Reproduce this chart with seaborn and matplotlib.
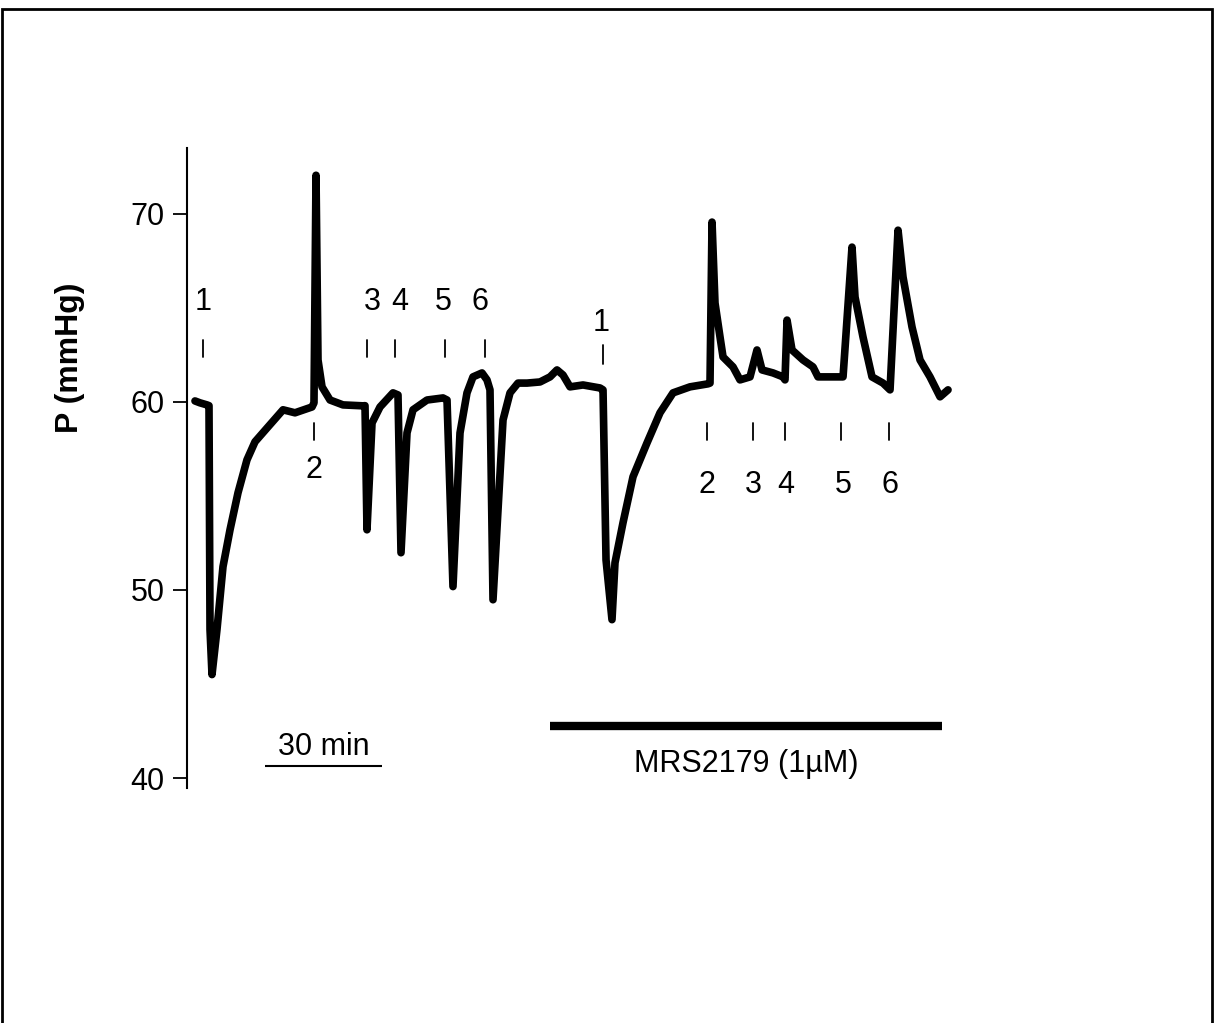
import matplotlib
matplotlib.use('Agg')
import matplotlib.pyplot as plt
import seaborn as sns
import pandas as pd
from matplotlib.patches import Rectangle

sns.set_theme(style='white')
plt.rcParams['font.family'] = ['Liberation Sans', 'DejaVu Sans']
plt.rcParams['text.color'] = 'black'

# pressure trace, time in min, pressure in mmHg
time_min = [2.05, 3.33, 5.13, 5.64, 5.9, 6.41, 7.69, 9.23, 11.03, 13.08,
            15.38, 17.44, 20.77, 24.62, 27.69, 32.05, 32.56, 33.08, 33.59, 34.62,
            36.67, 40.0, 45.13, 45.64, 46.15, 47.44, 49.49, 52.82, 54.1, 54.87,
            56.41, 57.95, 61.54, 65.64, 66.67, 68.2, 70.0, 71.79, 73.33, 75.64,
            76.92, 77.69, 78.46, 81.03, 82.82, 84.87, 87.18, 90.51, 93.08, 94.87,
            96.41, 98.21, 101.54, 105.9, 106.67, 107.44, 108.97, 109.74, 111.79, 114.36,
            117.95, 121.28, 124.62, 128.97, 133.59, 134.1, 134.62, 135.38, 136.67, 137.44,
            140.0, 141.79, 144.36, 146.15, 147.44, 150.26, 152.82, 153.33, 153.85, 155.13,
            157.95, 160.51, 161.79, 164.87, 168.21, 170.51, 171.28, 173.33, 175.64, 178.46,
            180.26, 182.31, 183.59, 185.9, 187.95, 190.51, 193.08, 195.13]
pressure = [60.05, 59.95, 59.84, 59.8, 47.9, 45.5, 47.9, 51.24, 53.2, 55.17,
            56.92, 57.88, 58.67, 59.58, 59.42, 59.73, 59.95, 72.05, 62.23, 60.8,
            60.1, 59.84, 59.79, 59.8, 53.2, 58.88, 59.73, 60.48, 60.37, 51.98,
            58.35, 59.58, 60.1, 60.21, 60.1, 50.18, 58.35, 60.48, 61.33, 61.54,
            61.17, 60.64, 49.48, 59.04, 60.48, 61.0, 61.0, 61.06, 61.33, 61.7,
            61.43, 60.8, 60.9, 60.74, 60.64, 51.6, 48.42, 51.45, 53.57, 56.02,
            57.82, 59.42, 60.48, 60.8, 60.96, 61.0, 69.56, 65.26, 63.45, 62.39,
            61.86, 61.17, 61.33, 62.76, 61.7, 61.54, 61.33, 61.17, 64.35, 62.76,
            62.23, 61.86, 61.33, 61.33, 61.33, 68.23, 65.58, 63.45, 61.33, 61.0,
            60.64, 69.13, 66.64, 63.98, 62.23, 61.33, 60.27, 60.64]

# event markers (agonist applications)
top_ticks = [4.1, 46.15, 53.33, 66.15, 76.41, 106.67]
top_label_x = [4.1, 47.44, 54.6, 65.64, 75.13, 106.15]
top_labels = ['1', '3', '4', '5', '6', '1']
top_label_y = [65.3, 65.3, 65.3, 65.3, 65.3, 64.2]
top_tick_lo = [62.4, 62.4, 62.4, 62.4, 62.4, 62.0]
top_tick_hi = [63.3, 63.3, 63.3, 63.3, 63.3, 63.0]

bottom_ticks = [32.56, 133.33, 145.13, 153.33, 167.69, 180.0]
bottom_label_x = [32.56, 133.33, 145.13, 153.6, 168.2, 180.26]
bottom_labels = ['2', '2', '3', '4', '5', '6']
bottom_label_y = [56.4, 55.6, 55.6, 55.6, 55.6, 55.6]

scale_bar = [20, 50]
drug_bar = [93.08, 193.6]
drug_label = 'MRS2179 (1\u00b5M)'

df = pd.DataFrame({'t': time_min, 'P': pressure})

fig = plt.figure(figsize=(12.15, 10.23), dpi=100)
ax = fig.add_axes([187 / 1215, 1 - 788 / 1023, (960 - 187) / 1215, 640 / 1023])

sns.lineplot(data=df, x='t', y='P', ax=ax, color='black', linewidth=5.5,
             sort=False, estimator=None)

fs = 22
for x, lx, lab, ly, lo, hi in zip(top_ticks, top_label_x, top_labels,
                                  top_label_y, top_tick_lo, top_tick_hi):
    ax.plot([x, x], [lo, hi], color='black', lw=1.3)
    ax.text(lx, ly, lab, ha='center', va='center', fontsize=fs)

for x, lx, lab, ly in zip(bottom_ticks, bottom_label_x, bottom_labels, bottom_label_y):
    ax.plot([x, x], [57.98, 58.88], color='black', lw=1.3)
    ax.text(lx, ly, lab, ha='center', va='center', fontsize=fs)

# 30 min scale bar
ax.plot(scale_bar, [40.62, 40.62], color='black', lw=1.5, solid_capstyle='butt')
ax.text(sum(scale_bar) / 2, 40.85, '30 min', ha='center', va='bottom', fontsize=fs)

# drug application bar
ax.plot(drug_bar, [42.79, 42.79], color='black', lw=6, solid_capstyle='butt')
ax.text(sum(drug_bar) / 2, 40.72, drug_label, ha='center', va='center', fontsize=fs)

ax.set_xlim(0, 198.2)
ax.set_ylim(39.47, 73.5)
ax.set_yticks([40, 50, 60, 70])
ax.set_xticks([])
ax.set_xlabel('')
ax.set_ylabel('')
for s in ['top', 'right', 'bottom']:
    ax.spines[s].set_visible(False)
ax.spines['left'].set_color('black')
ax.spines['left'].set_linewidth(1.5)
ax.tick_params(axis='y', left=True, direction='out', length=10, width=1.3,
               color='black', pad=6, labelsize=fs, labelcolor='black')
ax.patch.set_alpha(0)

fig.text(70 / 1215, 1 - 358 / 1023, 'P (mmHg)', rotation=90, ha='center',
         va='center', fontsize=23, fontweight='bold')

# outer frame
fig.patches.append(Rectangle((2 / 1215, -0.02), 1210 / 1215, 1.02 - 9 / 1023,
                             transform=fig.transFigure, fill=False,
                             edgecolor='black', linewidth=2))

plt.savefig('out.png', dpi=100)
print('finished')
